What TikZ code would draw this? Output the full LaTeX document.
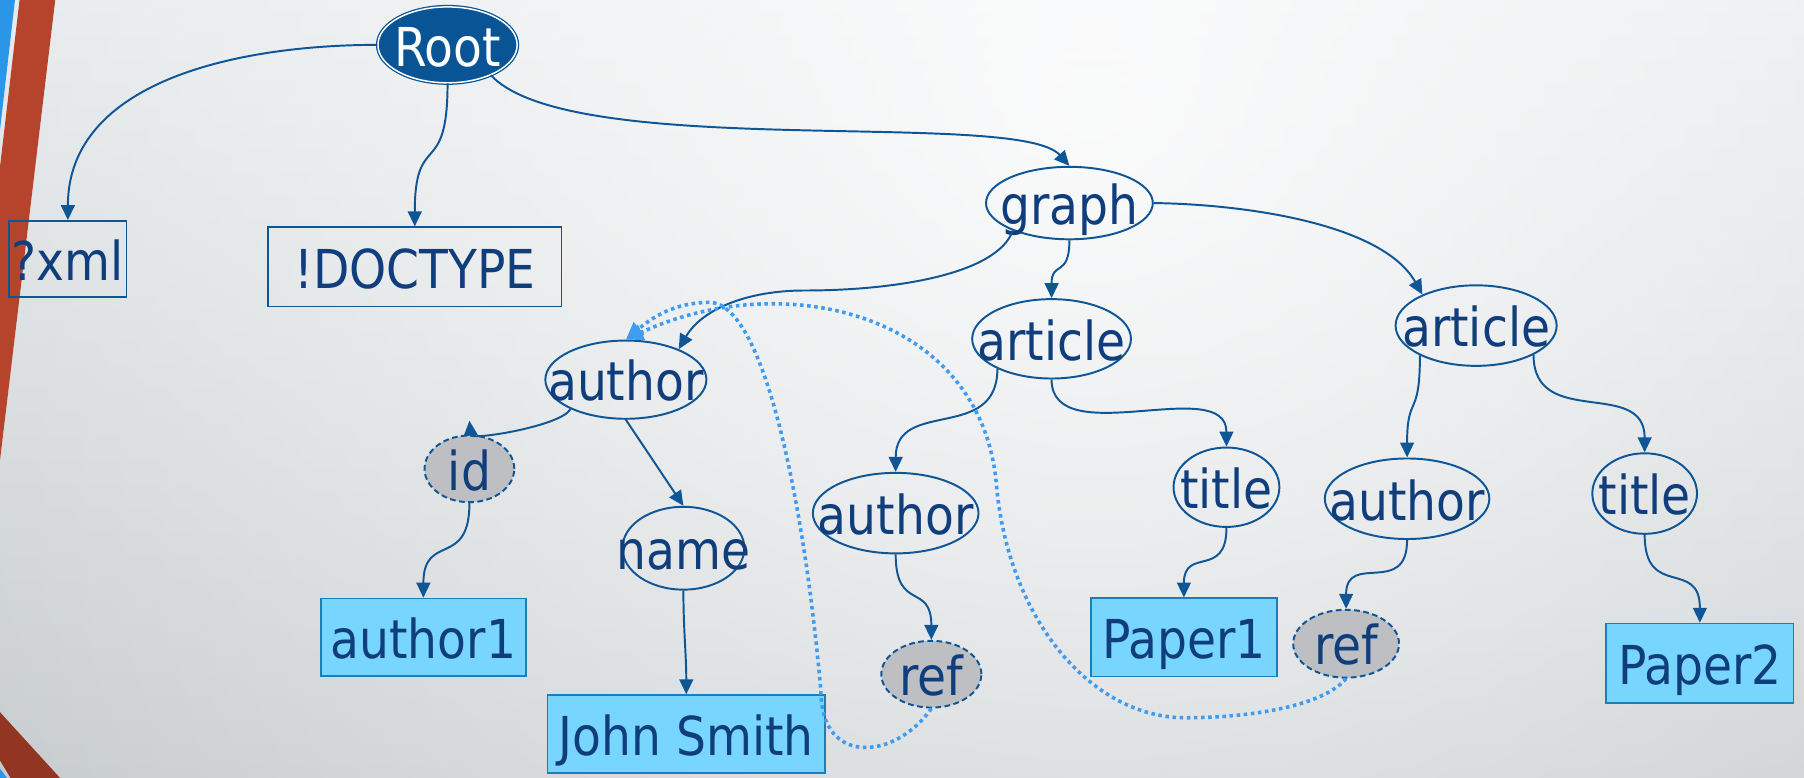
\documentclass[tikz,border=0pt]{standalone}
\usepackage{fontspec}
\setmainfont{DejaVu Sans}[FakeStretch=0.88]
\usetikzlibrary{positioning,shapes.geometric,arrows.meta,fadings}

\definecolor{ink}{RGB}{16,62,125}
\definecolor{treeblue}{RGB}{14,86,150}
\definecolor{rootblue}{RGB}{9,84,148}
\definecolor{leafcyan}{RGB}{120,214,254}
\definecolor{leafline}{RGB}{24,128,182}
\definecolor{attrgray}{RGB}{190,191,194}
\definecolor{reflink}{RGB}{64,156,240}
\definecolor{slidered}{RGB}{182,68,44}
\definecolor{slideblue}{RGB}{43,149,232}
\definecolor{bgtop}{RGB}{226,230,232}
\definecolor{bgbottom}{RGB}{192,197,200}

\tikzfading[name=glow, inner color=transparent!0, outer color=transparent!100]

\tikzset{
	lbl/.style={text=ink, inner sep=0pt, font=\fontsize{46.6}{56}\selectfont, text height=37pt, text depth=0pt},
	elem/.style={lbl, ellipse, draw=treeblue, line width=1.7pt,
		execute at begin node={\hbox to 0pt\bgroup\hss},
		execute at end node={\hss\egroup}},
	attr/.style={elem, fill=attrgray, dash pattern=on 5pt off 3pt},
	rootelem/.style={elem, fill=rootblue, draw=rootblue, text=white, line width=1.1pt, double=white, double distance=1.3pt},
	box/.style={lbl, rectangle, draw=treeblue, line width=1.4pt},
	leaf/.style={box, fill=leafcyan, draw=leafline},
	link/.style={draw=treeblue, line width=1.7pt, -{Triangle[length=13pt,width=12pt]}},
	idref/.style={draw=reflink, line width=3.1pt, dash pattern=on 3.1pt off 3.1pt, -{Triangle[length=15pt,width=14pt]}},
}

\begin{document}
\begin{tikzpicture}[x=1pt, y=1pt, on grid]
	\useasboundingbox (0,0) rectangle (1568,-676);
	\begin{scope}
		\clip (0,0) rectangle (1568,-676);
		\fill[top color=bgtop, bottom color=bgbottom] (0,0) rectangle (1568,-676);
		\fill[white, path fading=glow, fill opacity=.85] (950,-100) circle (1300);
		\fill[slideblue] (0,0) -- (13,0) -- (0,-113) -- cycle;
		\fill[slidered] (17,0) -- (48,0) -- (0,-400) -- (0,-145) -- cycle;
		\fill[slidered!80!black] (0,-619) -- (52,-676) -- (9,-676) -- (0,-661) -- cycle;
		\fill[slideblue] (0,-668) -- (6,-676) -- (0,-676) -- cycle;
	\end{scope}

	\node[rootelem, minimum width=121pt, minimum height=66pt] (root) at (389,-39) {Root};
	\node[box, below left=186pt and 330pt of root, minimum width=102pt, minimum height=66pt] (xml) {?xml};
	\node[box, below left=193pt and 28.5pt of root, minimum width=255pt, minimum height=69pt] (dtd) {!DOCTYPE};
	\node[elem, below right=137.5pt and 540.5pt of root, minimum width=145pt, minimum height=63pt] (graph) {graph};

	\node[elem, below left=153.5pt and 385.5pt of graph, minimum width=140pt, minimum height=68pt] (auth) {author};
	\node[attr, below left=77.5pt and 136pt of auth, minimum width=78pt, minimum height=58pt] (id) {id};
	\node[elem, below right=146.5pt and 50pt of auth, minimum width=106pt, minimum height=72pt] (name) {name};
	\node[leaf, below left=146.5pt and 40pt of id, minimum width=178pt, minimum height=67.6pt] (idval) {author1};
	\node[leaf, below right=161.5pt and 2.5pt of name, minimum width=241pt, minimum height=67.6pt] (nameval) {John Smith};

	\node[elem, below left=118pt and 15.5pt of graph, minimum width=138pt, minimum height=69pt] (art1) {article};
	\node[elem, below left=151.5pt and 135.5pt of art1, minimum width=144pt, minimum height=70pt] (auth1) {author};
	\node[attr, below right=140pt and 31pt of auth1, minimum width=87pt, minimum height=58pt] (ref1) {ref};
	\node[elem, below right=129pt and 152pt of art1, minimum width=92pt, minimum height=69pt] (title1) {title};
	\node[leaf, below left=130.5pt and 37pt of title1, minimum width=162pt, minimum height=68pt] (paper1) {Paper1};

	\node[elem, below right=106.5pt and 353.5pt of graph, minimum width=140pt, minimum height=70pt] (art2) {article};
	\node[elem, below left=150.5pt and 60pt of art2, minimum width=143pt, minimum height=70pt] (auth2) {author};
	\node[attr, below left=126pt and 53pt of auth2, minimum width=92pt, minimum height=59pt] (ref2) {ref};
	\node[elem, below right=146pt and 146.5pt of art2, minimum width=91pt, minimum height=70pt] (title2) {title};
	\node[leaf, below right=147.5pt and 48pt of title2, minimum width=163pt, minimum height=69pt] (paper2) {Paper2};

	\draw[link] (root.west) to[out=180,in=90] (xml.north);
	\draw[link] (root.south) to[out=-90,in=90,looseness=1.7] (dtd.north);
	\draw[link] (root.-35) .. controls +(70,-75) and +(-44.5,50) .. (graph.north);
	\draw[link] (graph.206) to[out=-110,in=0,out distance=40pt,in distance=80pt] ++(-181,-52)
		to[out=180,in=60,out distance=50pt,in distance=40pt] (auth.30);
	\draw[link] (graph.south) to[out=-90,in=90,looseness=1.6] (art1.north);
	\draw[link] (graph.east) .. controls +(78,-1) and +(-35,62) .. (art2.150);
	\draw[link] (auth.208) to[out=240,in=-85,looseness=.5] ([yshift=12pt]id.north);
	\draw[link] (auth.south) -- (name.north);
	\draw[link] (id.south) to[out=-90,in=90,looseness=1.6] (idval.north);
	\draw[link] (name.south) to[out=-90,in=90] (nameval.north);
	\draw[link] (art1.209) to[out=-90,in=90,looseness=1.3] (auth1.north);
	\draw[link] (art1.south) to[out=-90,in=90] (title1.north);
	\draw[link] (auth1.south) to[out=-90,in=90,looseness=1.6] (ref1.north);
	\draw[link] (title1.south) to[out=-90,in=90,looseness=1.6] (paper1.north);
	\draw[link] (art2.208) to[out=-90,in=90,looseness=1.6] (auth2.north);
	\draw[link] (art2.-27) to[out=-90,in=90,looseness=1.3] (title2.north);
	\draw[link] (auth2.south) to[out=-90,in=90,looseness=1.6] (ref2.north);
	\draw[link] (title2.south) to[out=-90,in=90,looseness=1.6] (paper2.north);

	\draw[idref] (ref1.south) to[out=235,in=-90,out distance=55pt,in distance=65pt] ++(-96,15)
		to[out=95,in=0,out distance=150pt,in distance=50pt] ++(-97,338)
		to[out=180,in=40,out distance=30pt,in distance=30pt] (auth.north);
	\draw[idref] (ref2.south) to[out=230,in=0,out distance=30pt,in distance=60pt] ++(-140,-34)
		to[out=180,in=-85,out distance=80pt,in distance=120pt] ++(-164,203)
		to[out=95,in=25,out distance=150pt,in distance=150pt] (auth.north);
\end{tikzpicture}
\end{document}
